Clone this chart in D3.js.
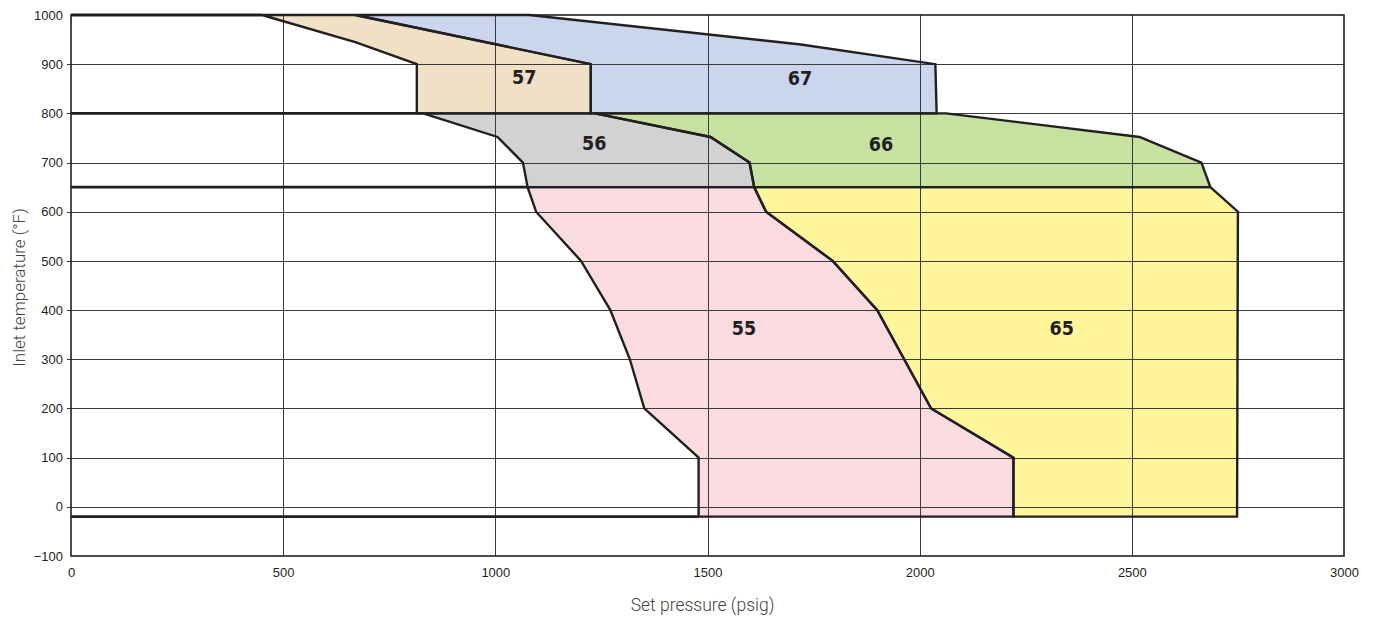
<!DOCTYPE html>
<html>
<head>
<meta charset="utf-8">
<script src="https://cdn.jsdelivr.net/npm/d3@7"></script>
<style>
  body { margin: 0; background: #fff; }
  svg { display: block; }
</style>
</head>
<body>
<svg id="chart" width="1376" height="619"></svg>
<script>
// ---- data (pressure psig, temperature °F) ----
const xTicks = [0, 500, 1000, 1500, 2000, 2500, 3000];
const yTicks = [-100, 0, 100, 200, 300, 400, 500, 600, 700, 800, 900, 1000];

const region57 = [[450,1000],[670,1000],[1225,900],[1225,800],[815,800],[815,900],[670,945]];
const region67 = [[670,1000],[1080,1000],[1720,940],[2037,900],[2040,800],[1225,800],[1225,900]];
const region56 = [[830,800],[1235,800],[1507,752],[1599,700],[1610,650],[1076,650],[1065,700],[1005,752]];
const region66 = [[1235,800],[2062,800],[2518,752],[2664,700],[2685,650],[1610,650],[1599,700],[1507,752]];
const region55 = [[1076,650],[1610,650],[1638,600],[1795,500],[1900,400],[2027,200],[2221,100],[2221,-20],[1479,-20],[1479,100],[1351,200],[1317,300],[1271,400],[1202,500],[1096,600]];
const region65 = [[1610,650],[2685,650],[2750,600],[2748,-20],[2221,-20],[2221,100],[2027,200],[1900,400],[1795,500],[1638,600]];

const regionNames = ["57","67","56","66","55","65"];
const regionPolys = [region57, region67, region56, region66, region55, region65];
const regionColors = ["#f0e1c6","#cbd5ee","#d1d2d4","#c7e1a1","#fadbe0","#fff59b"];
const labelPos = [[1068,872],[1718,870],[1233,738],[1909,736],[1586,363],[2335,363]];

// left boundary lines (from 0 psig to region start)
const boundaryLines = [
  [[0,1000],[450,1000]],
  [[0,800],[830,800]],
  [[0,650],[1076,650]],
  [[0,-20],[1479,-20]]
];

// ---- layout ----
const W = 1376, H = 619;
const m = {left: 71, right: 1344, top: 15, bottom: 556};
const x = d3.scaleLinear().domain([0, 3000]).range([m.left, m.right]);
const y = d3.scaleLinear().domain([-100, 1000]).range([m.bottom, m.top]);

const svg = d3.select("#chart");
const ink = "#231f20";

// fills
svg.append("g").selectAll("path").data(regionPolys).join("path")
  .attr("d", p => d3.line().x(d => x(d[0])).y(d => y(d[1]))(p) + "Z")
  .attr("fill", (d,i) => regionColors[i])
  .attr("stroke", "none");

// grid
const grid = svg.append("g").attr("stroke", "#3a3a3a").attr("stroke-width", 1);
grid.selectAll("line.v").data(xTicks.slice(1, -1)).join("line")
  .attr("x1", d => Math.round(x(d)) + 0.5).attr("x2", d => Math.round(x(d)) + 0.5)
  .attr("y1", m.top).attr("y2", m.bottom);
grid.selectAll("line.h").data(yTicks.slice(1, -1)).join("line")
  .attr("y1", d => Math.round(y(d)) + 0.5).attr("y2", d => Math.round(y(d)) + 0.5)
  .attr("x1", m.left - 4).attr("x2", m.right);

// frame
svg.append("rect")
  .attr("x", m.left).attr("y", m.top)
  .attr("width", m.right - m.left).attr("height", m.bottom - m.top)
  .attr("fill", "none").attr("stroke", ink).attr("stroke-width", 1.6);

// outlines
svg.append("g").selectAll("path").data(regionPolys).join("path")
  .attr("d", p => d3.line().x(d => x(d[0])).y(d => y(d[1]))(p) + "Z")
  .attr("fill", "none").attr("stroke", ink).attr("stroke-width", 2.4)
  .attr("stroke-linejoin", "miter");
svg.append("g").selectAll("path").data(boundaryLines).join("path")
  .attr("d", d3.line().x(d => x(d[0])).y(d => y(d[1])))
  .attr("fill", "none").attr("stroke", ink).attr("stroke-width", 2.8);

// region labels
svg.append("g").selectAll("text").data(regionNames).join("text")
  .attr("x", (d,i) => x(labelPos[i][0]))
  .attr("y", (d,i) => y(labelPos[i][1]))
  .attr("text-anchor", "middle").attr("dominant-baseline", "central")
  .attr("font-family", "'DejaVu Sans Condensed', 'DejaVu Sans', sans-serif")
  .attr("font-weight", "bold").attr("font-size", 19.5)
  .attr("fill", ink)
  .text(d => d);

// axes
const xAxis = d3.axisBottom(x).tickValues(xTicks).tickSize(0).tickPadding(12).tickFormat(d3.format("d"));
const gx = svg.append("g").attr("transform", `translate(0,${m.bottom})`).call(xAxis);
gx.select(".domain").remove();
gx.selectAll("text").attr("font-family", "'Liberation Sans', Arial, sans-serif").attr("font-size", 13).attr("fill", ink);

const yAxis = d3.axisLeft(y).tickValues(yTicks).tickSize(0).tickPadding(8).tickFormat(d3.format("d"));
const gy = svg.append("g").attr("transform", `translate(${m.left},0)`).call(yAxis);
gy.select(".domain").remove();
gy.selectAll("text").attr("font-family", "'Liberation Sans', Arial, sans-serif").attr("font-size", 13).attr("fill", ink);

// axis titles
svg.append("text")
  .attr("x", (m.left + m.right) / 2 - 5).attr("y", 611)
  .attr("text-anchor", "middle")
  .attr("font-family", "Roboto, 'Open Sans', sans-serif").attr("font-weight", 300)
  .attr("font-size", 17.5).attr("fill", "#444")
  .text("Set pressure (psig)");
svg.append("text")
  .attr("transform", `translate(25,${(m.top + m.bottom) / 2 + 2}) rotate(-90)`)
  .attr("text-anchor", "middle")
  .attr("font-family", "Roboto, 'Open Sans', sans-serif").attr("font-weight", 300)
  .attr("font-size", 17).attr("fill", "#444")
  .text("Inlet temperature (°F)");
</script>
</body>
</html>
